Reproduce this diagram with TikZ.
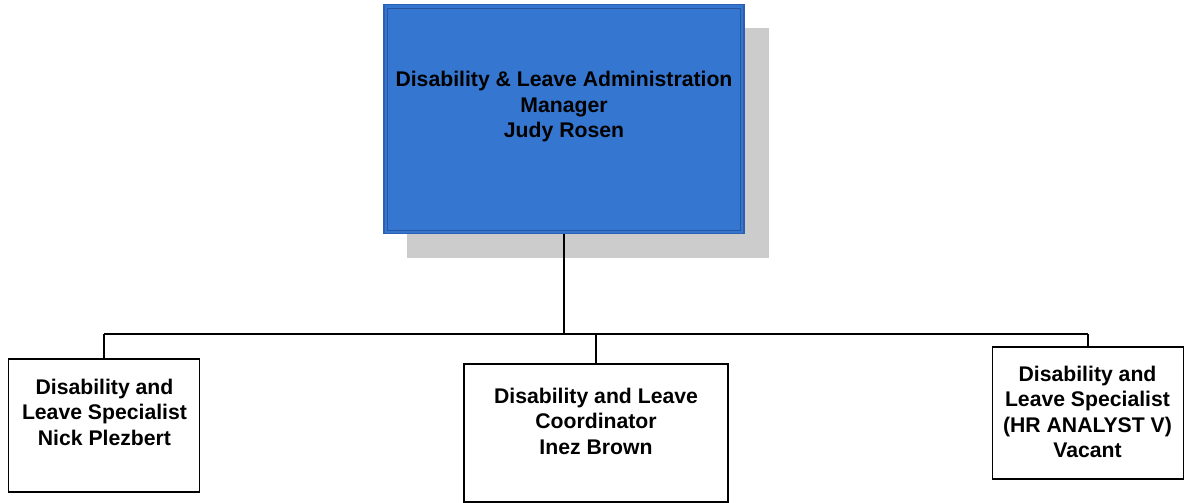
\documentclass[tikz,border=0pt]{standalone}
\usepackage{fontspec}
\setmainfont{Liberation Sans}
\definecolor{mgrfill}{HTML}{3576D0}
\definecolor{mgrline}{HTML}{2C5FB0}
\definecolor{shadowgray}{HTML}{CCCCCC}
\begin{document}
\begin{tikzpicture}[x=1pt,y=-1pt,
  lbl/.style={align=center,font=\fontsize{21.2}{25.5}\selectfont\bfseries,inner sep=0pt},
  empbox/.style={draw=black,line width=1.5pt,fill=white,inner sep=0pt},
  conn/.style={draw=black,line width=1.5pt}]
\useasboundingbox (0,0) rectangle (1184,503);
% manager shadow and box
\node[fill=shadowgray,minimum width=362pt,minimum height=230pt,inner sep=0pt] (shadow) at (588,143) {};
\node[fill=mgrfill,draw=mgrline,line width=1.8pt,minimum width=360pt,minimum height=229pt,inner sep=0pt] (mgr) at (564,119) {};
\node[draw=mgrline!90!black,line width=0.9pt,minimum width=353pt,minimum height=222pt,inner sep=0pt] (mgrin) at (564,119) {};
\node[lbl] (mgrtxt) at (564,107) {Disability \& Leave Administration\\Manager\\Judy Rosen};
% subordinate boxes
\node[empbox,minimum width=191pt,minimum height=133pt] (s1) at (104,425.5) {};
\node[lbl] (s1txt) at (104.5,412) {Disability and\\Leave Specialist\\Nick Plezbert};
\node[empbox,minimum width=264pt,minimum height=138pt] (s2) at (596,433) {};
\node[lbl] (s2txt) at (596,421) {Disability and Leave\\Coordinator\\Inez Brown};
\node[empbox,minimum width=191pt,minimum height=132pt] (s3) at (1088,413) {};
\node[lbl] (s3txt) at (1087.5,412) {Disability and\\Leave Specialist\\(HR ANALYST V)\\Vacant};
% connectors
\coordinate (busL) at (104,334);
\coordinate (busR) at (1088,334);
\draw[conn] (busL) -- (busR);
\draw[conn] (mgr.south) -- (mgr.south |- busL);
\draw[conn] (busL) -- (s1.north);
\draw[conn] (s2.north |- busL) -- (s2.north);
\draw[conn] (busR) -- (s3.north);
\end{tikzpicture}
\end{document}
